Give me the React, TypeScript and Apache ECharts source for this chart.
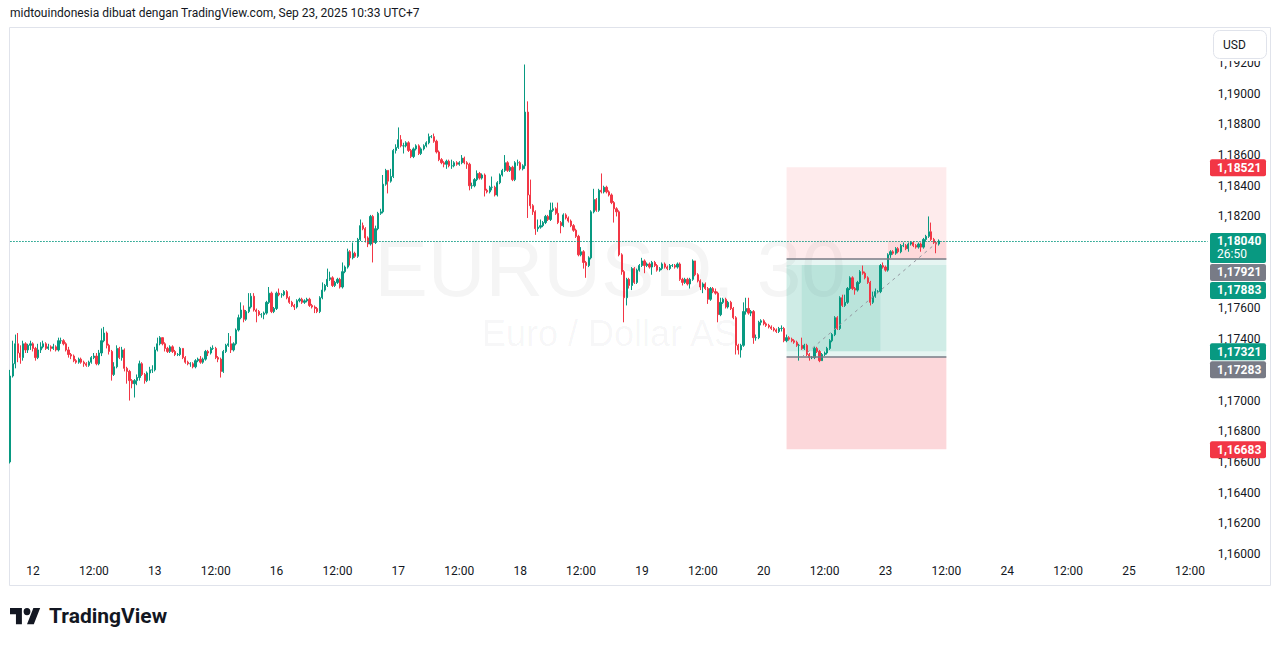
import { useEffect, useRef } from 'react';
import * as echarts from 'echarts';

const FONT = 'Roboto, "Noto Sans", "DejaVu Sans", sans-serif';
const WM_FONT = '"Liberation Sans", Arial, sans-serif';
const UP = '#089981';
const DOWN = '#f23645';
const GREY = '#787b86';
const TEXT = '#131722';

// Prices in units of 0.0001 above 1.0000, one row per 30-minute candle: [close, high, low].
// The open of each candle is the previous close.
const FIRST_OPEN = 1660;
const SESSION_11_12 = [
  [1716,1720,1659],[1724,1739,1715],[1737,1743,1721],[1731,1744,1725],[1728,1736,1724],[1737,1739,1726],[1733,1738,1731],[1736,1737,1731],[1737,1739,1733],[1734,1738,1732],
  [1728,1735,1726],[1733,1737,1727],[1735,1738,1731],[1737,1739,1734],[1734,1738,1733],[1735,1737,1733],[1734,1736,1732],[1735,1737,1733],[1733,1736,1732],[1739,1741,1732],
  [1739,1741,1737],[1737,1740,1736],[1733,1738,1732],[1730,1735,1728],[1729,1731,1727],[1726,1730,1725],[1725,1727,1724],[1727,1728,1724],[1725,1728,1724],[1724,1726,1722],
  [1723,1725,1722],[1725,1726,1722],[1728,1729,1724],[1729,1731,1727],[1724,1731,1723],[1731,1733,1723],[1739,1747,1729],[1744,1748,1738],[1736,1745,1734],[1732,1737,1730],
  [1717,1733,1713],[1722,1725,1716],[1734,1736,1721],[1728,1735,1727],[1733,1735,1726],[1721,1734,1719],[1719,1722,1711],[1713,1720,1700],[1711,1714,1708],[1713,1714,1702],
  [1715,1717,1710],[1724,1726,1713],[1717,1725,1716],[1713,1718,1711],[1718,1719,1712],[1720,1722,1713],[1720,1723,1718],
];
const SESSION_13_15 = [
  [1733,1735,1719],[1737,1741,1732],[1741,1742,1736],[1737,1741,1736],[1734,1738,1732],[1732,1735,1731],[1735,1736,1731],[1732,1736,1731],[1730,1733,1729],[1730,1731,1729],
  [1734,1735,1729],[1728,1734,1727],[1725,1729,1724],[1724,1726,1723],[1724,1725,1722],[1722,1725,1721],[1726,1727,1721],[1727,1728,1725],[1725,1729,1724],[1727,1728,1724],
  [1732,1733,1726],[1731,1733,1729],[1734,1735,1730],[1734,1736,1733],[1728,1735,1727],[1727,1729,1725],[1719,1728,1715],[1732,1733,1718],[1736,1737,1731],[1737,1744,1735],
  [1733,1742,1731],[1737,1738,1732],[1746,1747,1736],[1754,1756,1745],[1759,1764,1753],[1753,1762,1751],[1758,1759,1752],[1761,1770,1757],[1768,1770,1760],[1759,1770,1758],
  [1758,1760,1751],[1756,1759,1755],[1756,1757,1754],[1757,1758,1753],[1764,1765,1756],[1770,1774,1763],[1758,1771,1757],[1760,1761,1757],
];
const SESSION_16 = [
  [1770,1771,1759],[1769,1773,1768],[1769,1770,1767],[1771,1772,1768],[1767,1772,1766],[1764,1768,1763],[1762,1765,1761],[1761,1763,1759],[1765,1766,1760],[1766,1767,1764],
  [1764,1767,1763],[1765,1766,1763],[1766,1767,1764],[1762,1767,1761],[1761,1763,1760],[1760,1762,1757],[1758,1761,1757],[1767,1768,1757],[1772,1777,1766],[1775,1776,1771],
  [1779,1786,1774],[1780,1784,1778],[1775,1781,1774],[1777,1778,1774],[1779,1780,1776],[1774,1780,1773],[1784,1790,1773],[1787,1788,1783],[1797,1799,1786],[1793,1798,1788],
  [1796,1803,1792],[1794,1797,1793],[1805,1806,1793],[1814,1818,1804],[1812,1816,1811],[1806,1813,1803],[1802,1807,1800],[1820,1821,1801],[1803,1821,1790],[1812,1814,1802],
  [1822,1823,1811],[1823,1825,1821],[1841,1847,1822],[1850,1851,1840],[1843,1850,1835],[1846,1851,1842],[1863,1864,1845],[1865,1867,1861],
];
const SESSION_17 = [
  [1870,1878,1864],[1866,1873,1865],[1866,1868,1861],[1868,1869,1865],[1863,1869,1862],[1859,1864,1858],[1864,1865,1858],[1866,1867,1863],[1861,1867,1860],[1864,1865,1860],
  [1866,1867,1863],[1868,1869,1865],[1872,1874,1867],[1872,1873,1871],[1869,1874,1868],[1862,1870,1861],[1857,1863,1856],[1855,1858,1854],[1854,1856,1852],[1856,1857,1851],
  [1853,1857,1852],[1853,1857,1851],[1855,1856,1852],[1854,1856,1853],[1855,1856,1853],[1858,1860,1854],[1855,1859,1854],[1854,1856,1851],[1840,1855,1837],[1840,1842,1838],
  [1844,1845,1839],[1848,1850,1843],[1845,1849,1844],[1847,1848,1844],[1837,1848,1833],[1836,1838,1835],[1839,1840,1835],[1839,1846,1837],[1834,1840,1833],[1842,1843,1833],
  [1847,1848,1841],[1850,1851,1846],[1855,1860,1849],[1850,1856,1849],[1852,1853,1849],[1844,1853,1843],[1855,1856,1843],[1855,1857,1853],
];
const SESSION_18 = [
  [1851,1856,1850],[1853,1854,1850],[1888,1919,1851],[1834,1895,1819],[1827,1844,1825],[1823,1828,1821],[1812,1824,1808],[1813,1818,1810],[1814,1818,1812],[1816,1817,1813],
  [1820,1821,1815],[1818,1821,1817],[1824,1829,1817],[1825,1829,1823],[1822,1826,1821],[1816,1829,1815],[1814,1817,1809],[1821,1822,1813],[1819,1822,1818],[1817,1820,1816],
  [1814,1818,1813],[1811,1815,1810],[1807,1812,1806],[1795,1808,1794],[1797,1800,1794],[1790,1798,1786],[1788,1791,1780],[1793,1794,1787],[1823,1824,1792],[1831,1838,1822],
  [1824,1832,1823],[1837,1838,1823],[1836,1848,1835],[1839,1840,1835],[1836,1840,1835],[1834,1837,1833],[1829,1835,1828],[1825,1830,1816],[1823,1826,1820],[1795,1824,1794],
  [1784,1796,1782],[1767,1785,1751],[1779,1780,1762],[1775,1780,1773],[1786,1787,1772],[1777,1787,1776],[1785,1786,1776],[1788,1789,1784],
];
const SESSION_19 = [
  [1791,1793,1787],[1788,1792,1783],[1789,1790,1787],[1787,1790,1786],[1790,1791,1782],[1788,1791,1787],[1785,1789,1784],[1786,1787,1784],[1789,1790,1785],[1787,1790,1786],
  [1786,1788,1785],[1788,1789,1785],[1788,1789,1787],[1787,1789,1786],[1789,1790,1786],[1779,1790,1778],[1777,1780,1775],[1779,1780,1776],[1776,1780,1775],[1779,1780,1773],
  [1791,1792,1778],[1782,1791,1781],[1778,1783,1777],[1774,1779,1772],[1776,1777,1770],[1773,1777,1772],[1766,1774,1763],[1773,1774,1765],[1771,1774,1770],[1770,1773,1769],
  [1756,1771,1751],[1764,1767,1755],[1766,1767,1763],[1761,1767,1760],[1764,1765,1760],[1760,1765,1759],[1754,1761,1753],[1736,1755,1730],[1733,1737,1730],[1736,1737,1728],
  [1758,1764,1735],[1760,1767,1756],[1757,1767,1756],[1758,1759,1755],[1741,1759,1737],[1741,1743,1739],[1751,1752,1740],[1752,1753,1749],
];
const SESSION_20_22 = [
  [1750,1753,1749],[1749,1751,1748],[1748,1750,1747],[1747,1749,1746],[1746,1748,1745],[1745,1747,1744],[1747,1748,1744],[1747,1749,1745],[1739,1748,1738],[1741,1743,1738],
  [1740,1742,1739],[1739,1741,1738],[1738,1740,1737],[1736,1739,1735],[1736,1737,1726],[1734,1741,1733],[1736,1737,1733],[1730,1737,1729],[1728,1731,1726],[1728,1729,1727],
  [1734,1735,1727],[1732,1735,1731],[1726,1733,1725],[1730,1731,1726],[1731,1732,1729],[1734,1735,1730],[1739,1740,1733],[1743,1744,1738],[1754,1755,1742],[1747,1755,1746],
  [1767,1768,1746],[1762,1769,1761],[1764,1769,1761],[1773,1774,1763],[1780,1781,1772],[1773,1781,1772],[1772,1774,1769],[1777,1778,1771],[1784,1785,1776],[1783,1788,1782],
  [1780,1784,1779],[1777,1781,1776],[1764,1778,1762],[1768,1771,1763],[1771,1773,1767],[1771,1772,1770],[1788,1789,1770],[1787,1790,1786],
];
const SESSION_23 = [
  [1785,1788,1784],[1795,1796,1784],[1797,1798,1793],[1796,1798,1795],[1799,1800,1795],[1797,1800,1796],[1801,1802,1796],[1801,1803,1800],[1799,1802,1798],[1802,1803,1797],
  [1803,1804,1801],[1801,1804,1800],[1800,1802,1799],[1802,1803,1799],[1800,1803,1797],[1805,1806,1799],[1807,1808,1804],[1810,1820,1806],[1805,1816,1804],[1803,1806,1802],
  [1802,1804,1796],[1804,1805,1801],
];

// Time axis: total 30-minute slots shown and the labelled slots
const TOTAL_SLOTS = 473;
const TIME_TICKS: [number, string][] = [
  [9, '12'], [33, '12:00'], [57, '13'], [81, '12:00'], [105, '16'], [129, '12:00'], [153, '17'], [177, '12:00'],
  [201, '18'], [225, '12:00'], [249, '19'], [273, '12:00'], [297, '20'], [321, '12:00'], [345, '23'], [369, '12:00'],
  [393, '24'], [417, '12:00'], [441, '25'], [465, '12:00'],
];

// Price axis
const Y_MIN = 1.158;
const Y_MAX = 1.196;
const Y_STEP = 0.002;
const Y_LABEL_LOW = 1.16;
const Y_LABEL_HIGH = 1.192;

// Last price and position tools
const CURRENT_PRICE = 1.1804;
const COUNTDOWN = '26:50';
const SHORT_STOP = 1.18521;
const SHORT_ENTRY = 1.17921;
const SHORT_TARGET = 1.17321;
const LONG_TARGET = 1.17883;
const LONG_ENTRY = 1.17283;
const LONG_STOP = 1.16683;
const POS_FROM = 306;
const POS_TO = 369;
const LONG_FILL: [number, number] = [312, 343];
const SHORT_FILL: [number, number] = [346, 369];
const TRADE_PATH: [number, number][] = [[312, LONG_ENTRY], [366, CURRENT_PRICE]];

const HEADER = 'midtouindonesia dibuat dengan TradingView.com, Sep 23, 2025 10:33 UTC+7';
const WATERMARK = 'EURUSD, 30';
const WATERMARK_SUB = 'Euro / Dollar AS';

const LOGO_PATH = 'M14 22H7V11H0V4h14v18zM28 22h-8l7.5-18h8L28 22zM24 8a4 4 0 1 1-8 0a4 4 0 1 1 8 0z';
echarts.graphic.registerShape('tvlogo', echarts.graphic.extendPath(LOGO_PATH, {}));

const ALL_ROWS = [
  ...SESSION_11_12, ...SESSION_13_15, ...SESSION_16, ...SESSION_17,
  ...SESSION_18, ...SESSION_19, ...SESSION_20_22, ...SESSION_23,
];

const toPrice = (v: number) => 1 + v / 10000;
const fmt = (v: number) => v.toFixed(5).replace('.', ',');

function buildCandles() {
  const out: number[][] = [];
  let prev = FIRST_OPEN;
  for (const [c, h, l] of ALL_ROWS) {
    const o = prev;
    out.push([toPrice(o), toPrice(c), toPrice(Math.min(l, o, c)), toPrice(Math.max(h, o, c))]);
    prev = c;
  }
  return out;
}

const CATS = Array.from({ length: TOTAL_SLOTS }, (_, i) => String(i));
const TICK_MAP = new Map<number, string>(TIME_TICKS);

function zone(x1: number, x2: number, y1: number, y2: number, color: string) {
  return [
    { coord: [String(x1), y1], itemStyle: { color } },
    { coord: [String(x2), y2] },
  ];
}

const TAGS = [
  { value: SHORT_STOP, bg: DOWN },
  { value: CURRENT_PRICE, bg: UP, sub: COUNTDOWN },
  { value: SHORT_ENTRY, bg: GREY },
  { value: LONG_TARGET, bg: UP },
  { value: SHORT_TARGET, bg: UP },
  { value: LONG_ENTRY, bg: GREY },
  { value: LONG_STOP, bg: DOWN },
];

function makeYFormatter(hidden: Set<string>) {
  return (v: number) => {
    if (v < Y_LABEL_LOW - 0.00005 || v > Y_LABEL_HIGH + 0.00005) return '';
    const s = fmt(v);
    return hidden.has(s) ? '' : s;
  };
}

function buildOption() {
  return {
    animation: false,
    backgroundColor: '#ffffff',
    textStyle: { fontFamily: FONT },
    grid: { left: 10.2, right: 73.3, top: 1.6, bottom: 61.3, containLabel: false },
    xAxis: {
      type: 'category',
      data: CATS,
      boundaryGap: false,
      offset: -20,
      axisLine: { show: false },
      axisTick: { show: false },
      splitLine: { show: false },
      axisLabel: {
        interval: (i: number) => TICK_MAP.has(i),
        formatter: (_v: string, i: number) => TICK_MAP.get(i) ?? '',
        color: TEXT,
        fontSize: 12,
        fontFamily: FONT,
        margin: 0,
      },
    },
    yAxis: {
      type: 'value',
      position: 'right',
      min: Y_MIN,
      max: Y_MAX,
      interval: Y_STEP,
      axisLine: { show: false },
      axisTick: { show: false },
      splitLine: { show: false },
      axisLabel: {
        formatter: makeYFormatter(new Set()),
        color: TEXT,
        fontSize: 12,
        fontFamily: FONT,
        margin: 10,
        align: 'left',
      },
    },
    series: [
      {
        type: 'line',
        name: 'positions',
        data: [],
        z: 1,
        silent: true,
        markArea: {
          silent: true,
          label: { show: false },
          data: [
            zone(POS_FROM, POS_TO, SHORT_ENTRY, SHORT_STOP, 'rgba(242,54,69,0.1)'),
            zone(POS_FROM, POS_TO, SHORT_TARGET, SHORT_ENTRY, 'rgba(8,153,129,0.1)'),
            zone(POS_FROM, POS_TO, LONG_ENTRY, LONG_TARGET, 'rgba(8,153,129,0.1)'),
            zone(POS_FROM, POS_TO, LONG_STOP, LONG_ENTRY, 'rgba(242,54,69,0.2)'),
            zone(LONG_FILL[0], LONG_FILL[1], SHORT_TARGET, LONG_TARGET, 'rgba(8,153,129,0.1)'),
            zone(SHORT_FILL[0], SHORT_FILL[1], SHORT_ENTRY, CURRENT_PRICE, 'rgba(242,54,69,0.1)'),
          ],
        },
        markLine: {
          silent: true,
          symbol: ['none', 'none'],
          label: { show: false },
          lineStyle: { color: GREY, width: 1.5, type: 'solid' },
          data: [
            [
              { coord: [String(POS_FROM), SHORT_ENTRY] },
              { coord: [String(POS_TO), SHORT_ENTRY] },
            ],
            [
              { coord: [String(POS_FROM), LONG_ENTRY] },
              { coord: [String(POS_TO), LONG_ENTRY] },
            ],
            [
              { coord: [String(TRADE_PATH[0][0]), TRADE_PATH[0][1]], lineStyle: { color: '#9598a1', width: 1, type: [3, 4] } },
              { coord: [String(TRADE_PATH[1][0]), TRADE_PATH[1][1]] },
            ],
          ],
        },
      },
      {
        type: 'candlestick',
        name: 'EURUSD',
        data: buildCandles(),
        z: 3,
        barWidth: 1.7,
        itemStyle: {
          color: UP,
          color0: DOWN,
          borderColor: UP,
          borderColor0: DOWN,
          borderWidth: 1,
        },
        markLine: {
          silent: true,
          symbol: ['none', 'none'],
          label: { show: false },
          lineStyle: { color: UP, width: 1, type: [1.5, 1.5], opacity: 1 },
          data: [
            [
              { coord: ['0', CURRENT_PRICE], lineStyle: { color: UP, width: 1, type: [1.5, 1.5] } },
              { coord: [String(TOTAL_SLOTS - 1), CURRENT_PRICE] },
            ],
          ],
        },
      },
    ],
  };
}

function layoutTags(chart: any) {
  let lastBottom = -Infinity;
  return TAGS.map((t) => {
    const y = chart.convertToPixel({ yAxisIndex: 0 }, t.value) as number;
    const h = t.sub ? 30 : 17;
    let top = y - 8;
    if (top < lastBottom + 1) top = lastBottom + 1;
    lastBottom = top + h;
    return { ...t, top, h };
  });
}

function hiddenTicks(chart: any, boxes: { top: number; h: number }[]) {
  const hidden = new Set<string>();
  const n = Math.round((Y_MAX - Y_MIN) / Y_STEP);
  for (let k = 0; k <= n; k++) {
    const v = Y_MIN + k * Y_STEP;
    const y = chart.convertToPixel({ yAxisIndex: 0 }, v) as number;
    if (boxes.some((b) => y >= b.top - 1 && y <= b.top + b.h + 1)) hidden.add(fmt(v));
  }
  return hidden;
}

function buildGraphics(boxes: any[]) {
  const g: any[] = [];
  // watermark
  g.push({
    type: 'text', x: 610, y: 268, z: 0, silent: true,
    style: { text: WATERMARK, fill: 'rgba(19,23,34,0.045)', font: `80px ${WM_FONT}`, align: 'center', verticalAlign: 'middle', textAlign: 'center', textVerticalAlign: 'middle' },
  });
  g.push({
    type: 'text', x: 610, y: 333, z: 0, silent: true,
    style: { text: WATERMARK_SUB, fill: 'rgba(19,23,34,0.045)', font: `36px ${WM_FONT}`, align: 'center', verticalAlign: 'middle', textAlign: 'center', textVerticalAlign: 'middle' },
  });
  // frame
  g.push({
    type: 'rect', z: 0, silent: true,
    shape: { x: 9.5, y: 27.5, width: 1261, height: 558 },
    style: { fill: 'none', stroke: '#e0e3eb', lineWidth: 1 },
  });
  // header
  g.push({
    type: 'text', x: 10, y: 13, z: 0,
    style: { text: HEADER, fill: TEXT, font: `12px ${FONT}`, verticalAlign: 'middle', textVerticalAlign: 'middle' },
  });
  // cover behind currency button
  g.push({ type: 'rect', z: 50, shape: { x: 1209, y: 28, width: 61, height: 33 }, style: { fill: '#ffffff' } });
  g.push({
    type: 'rect', z: 51,
    shape: { x: 1213.5, y: 30.5, width: 53, height: 28, r: 6 },
    style: { fill: '#ffffff', stroke: '#e0e3eb', lineWidth: 1 },
  });
  g.push({
    type: 'text', x: 1223, y: 44.5, z: 52,
    style: { text: 'USD', fill: TEXT, font: `12px ${FONT}`, verticalAlign: 'middle', textVerticalAlign: 'middle' },
  });
  // price tags
  for (const t of boxes) {
    g.push({ type: 'rect', z: 60, shape: { x: 1210, y: t.top, width: 56, height: t.h, r: 2 }, style: { fill: t.bg } });
    if (t.sub) {
      g.push({
        type: 'text', x: 1217, y: t.top + 15, z: 61,
        style: {
          text: `{a|${fmt(t.value)}}\n{b|${t.sub}}`,
          fill: '#ffffff', font: `12px ${FONT}`, verticalAlign: 'middle', textVerticalAlign: 'middle',
          rich: {
            a: { fill: '#ffffff', font: `bold 12px ${FONT}`, lineHeight: 13 },
            b: { fill: '#ffffff', font: `12px ${FONT}`, lineHeight: 13 },
          },
        },
      });
    } else {
      g.push({
        type: 'text', x: 1217, y: t.top + 8.5, z: 61,
        style: { text: fmt(t.value), fill: '#ffffff', font: `bold 12px ${FONT}`, lineHeight: 13, verticalAlign: 'middle', textVerticalAlign: 'middle' },
      });
    }
  }
  // logo
  g.push({ type: 'tvlogo', x: 10, y: 604.4, scaleX: 0.85, scaleY: 0.9, z: 10, style: { fill: TEXT } });
  g.push({
    type: 'text', x: 49, y: 616, z: 10,
    style: { text: 'TradingView', fill: TEXT, font: `bold 21px ${FONT}`, verticalAlign: 'middle', textVerticalAlign: 'middle' },
  });
  return g;
}

export default function App() {
  const ref = useRef<HTMLDivElement>(null);
  useEffect(() => {
    const el = ref.current;
    if (!el) return;
    const chart = echarts.init(el, null, { renderer: 'svg' });
    chart.setOption(buildOption() as any);
    const boxes = layoutTags(chart);
    const hidden = hiddenTicks(chart, boxes);
    chart.setOption({
      yAxis: { axisLabel: { formatter: makeYFormatter(hidden) } },
      graphic: buildGraphics(boxes),
    } as any);
    return () => chart.dispose();
  }, []);
  return (
    <div
      ref={ref}
      style={{ position: 'absolute', left: 0, top: 0, width: 1281, height: 646, background: '#ffffff' }}
    />
  );
}
